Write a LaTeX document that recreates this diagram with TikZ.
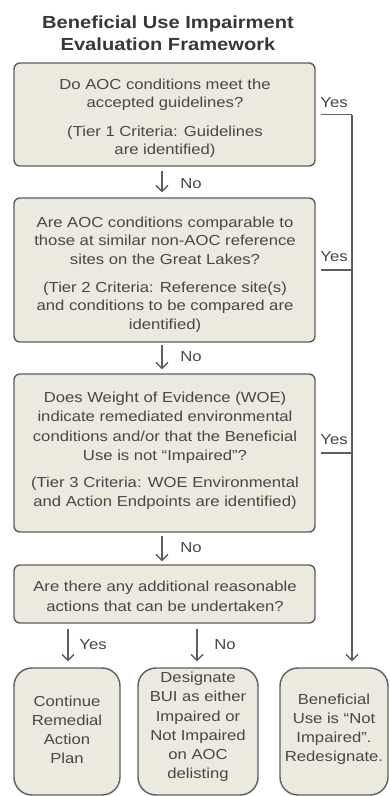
\documentclass[tikz,border=0pt]{standalone}
\usepackage{fontspec}
\setmainfont{Liberation Sans}[FakeStretch=1.15]
\usetikzlibrary{arrows.meta}
\definecolor{boxfill}{HTML}{ECE9DF}
\definecolor{boxline}{HTML}{5E5E5E}
\definecolor{txt}{HTML}{474747}
\definecolor{ttl}{HTML}{383838}
\begin{document}
\begin{tikzpicture}[x=1pt,y=-1pt,
  qbox/.style={draw=boxline, line width=1.4pt, fill=boxfill, rounded corners=6pt,
    inner sep=0pt, minimum width=301pt},
  endbox/.style={draw=boxline, line width=1.4pt, fill=boxfill, rounded corners=18pt,
    inner sep=0pt, minimum height=127pt},
  btext/.style={inner sep=0pt, align=center, text=txt},
  lbl/.style={text=txt, inner sep=0pt, font=\fontsize{14.5}{19}\selectfont},
  conn/.style={draw=boxline, line width=1.3pt},
  arr/.style={conn, -{Straight Barb[length=6pt,width=12pt,line width=1.3pt]}}
]
\useasboundingbox (0,0) rectangle (389,796);
\fill[white] (0,0) rectangle (389,796);

\node[text=ttl, align=center, font=\fontsize{17.5}{22}\bfseries\selectfont] (title) at (168,33)
  {Beneficial Use Impairment\\Evaluation Framework};

% question boxes
\node[qbox, minimum height=103pt] (b1) at (164.5,114.5) {};
\node[qbox, minimum height=144pt] (b2) at (164.5,270) {};
\node[qbox, minimum height=158pt] (b3) at (164.5,453) {};
\node[qbox, minimum height=58pt] (b4) at (164.5,594) {};

\node[btext, font=\fontsize{14.5}{18}\selectfont] (t1) at (165,118.5)
  {Do AOC conditions meet the\\accepted guidelines?\\[11pt]
   (Tier 1 Criteria: Guidelines\\are identified)};
\node[btext, font=\fontsize{14.5}{18.5}\selectfont] (t2) at (165,274.5)
  {Are AOC conditions comparable to\\those at similar non-AOC reference\\sites on the Great Lakes?\\[9.5pt]
   (Tier 2 Criteria: Reference site(s)\\and conditions to be compared are\\identified)};
\node[btext, font=\fontsize{14.5}{19.3}\selectfont] (t3) at (165,451)
  {Does Weight of Evidence (WOE)\\indicate remediated environmental\\conditions and/or that the Beneficial\\Use is not “Impaired”?\\[7.7pt]
   (Tier 3 Criteria: WOE Environmental\\and Action Endpoints are identified)};
\node[btext, font=\fontsize{14.5}{20}\selectfont] (t4) at (165,596)
  {Are there any additional reasonable\\actions that can be undertaken?};

% end boxes
\node[endbox, minimum width=106pt] (bA) at (67,731.5) {};
\node[endbox, minimum width=120pt] (bB) at (198,731.5) {};
\node[endbox, minimum width=108pt] (bC) at (334,731.5) {};

\node[btext, font=\fontsize{14.5}{19}\selectfont] (tA) at (67,729.5)
  {Continue\\Remedial\\Action\\Plan};
\node[btext, font=\fontsize{14.5}{19.2}\selectfont] (tB) at (198,727)
  {Designate\\BUI as either\\Impaired or\\Not Impaired\\on AOC\\delisting};
\node[btext, font=\fontsize{14.5}{19}\selectfont] (tC) at (334,729.5)
  {Beneficial\\Use is “Not\\Impaired”.\\Redesignate.};

\coordinate (ax) at (162,0);
\coordinate (vx) at (352,0);
\coordinate (lx) at (68,0);
\coordinate (mx) at (197,0);

% No arrows
\draw[arr, shorten <=4pt, shorten >=5pt] (b1.south -| ax) -- (b2.north -| ax);
\draw[arr, shorten <=2pt, shorten >=4pt] (b2.south -| ax) -- (b3.north -| ax);
\draw[arr, shorten <=3pt, shorten >=3pt] (b3.south -| ax) -- (b4.north -| ax);
\node[lbl] (n1) at (191,184) {No};
\node[lbl] (n2) at (191,357) {No};
\node[lbl] (n3) at (191,548) {No};

% bottom arrows
\draw[arr, shorten <=5pt, shorten >=6pt] (b4.south -| lx) -- (bA.north -| lx);
\draw[arr, shorten <=5pt, shorten >=6pt] (b4.south -| mx) -- (bB.north -| mx);
\node[lbl] (y4) at (93,645) {Yes};
\node[lbl] (n4) at (225,645) {No};

% Yes lines
\draw[conn, shorten <=5pt] (b1.east) -- (b1.east -| vx);
\draw[conn, shorten <=5pt] (b2.east) -- (b2.east -| vx);
\draw[conn, shorten <=5pt] (b3.east) -- (b3.east -| vx);
\draw[arr, shorten >=6pt] (b1.east -| vx) -- (bC.north -| vx);
\node[lbl] (y1) at (334,103) {Yes};
\node[lbl] (y2) at (334,257) {Yes};
\node[lbl] (y3) at (334,440) {Yes};
\end{tikzpicture}
\end{document}
